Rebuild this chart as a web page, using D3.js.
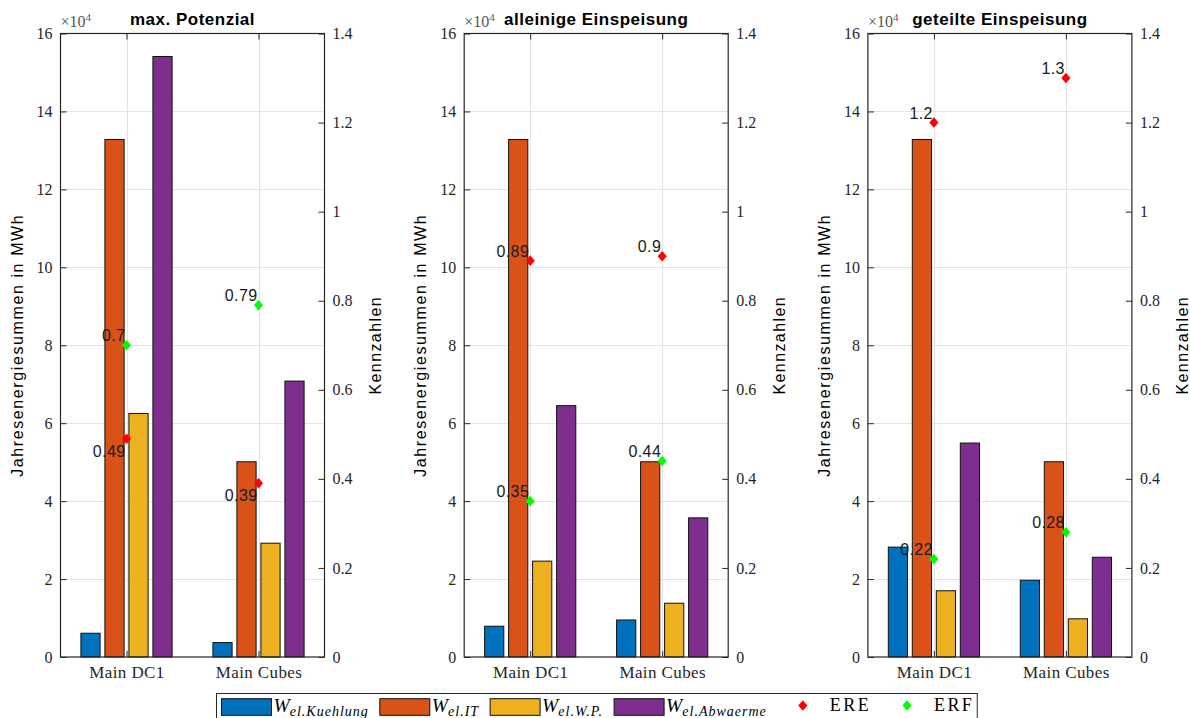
<!DOCTYPE html>
<html>
<head>
<meta charset="utf-8">
<script src="https://cdn.jsdelivr.net/npm/d3@7"></script>
<style>
  body { margin: 0; background: #fff; }
  svg { display: block; }
</style>
</head>
<body>
<svg id="chart" width="1190" height="718"></svg>
<script>
// ---- data -------------------------------------------------------------
const categories = ["Main DC1", "Main Cubes"];
const panelTitles = ["max. Potenzial", "alleinige Einspeisung", "geteilte Einspeisung"];

// annual energy sums in MWh, one [DC1, Cubes] pair per panel
const wKuehlung = [[6100, 3700], [7900, 9500], [28200, 19700]];
const wIT       = [[132800, 50100], [132800, 50100], [132800, 50100]];
const wWP       = [[62500, 29200], [24600, 13800], [17000, 9800]];
const wAbwaerme = [[154100, 70800], [64500, 35700], [54900, 25600]];

// key figures (right axis)
const ere = [[0.49, 0.39], [0.89, 0.9], [1.2, 1.3]];
const erf = [[0.7, 0.79], [0.35, 0.44], [0.22, 0.28]];

const leftTickValues  = [0, 20000, 40000, 60000, 80000, 100000, 120000, 140000, 160000];
const leftTickLabels  = ["0", "2", "4", "6", "8", "10", "12", "14", "16"];
const rightTickValues = [0, 0.2, 0.4, 0.6, 0.8, 1.0, 1.2, 1.4];
const rightTickLabels = ["0", "0.2", "0.4", "0.6", "0.8", "1", "1.2", "1.4"];

const barSubscripts = ["el.Kuehlung", "el.IT", "el.W.P.", "el.Abwaerme"];
const markerNames = ["ERE", "ERF"];

// ---- layout & style ---------------------------------------------------
const svg = d3.select("#chart");
const plotTop = 33.5, plotBottom = 657, plotWidth = 264;
const firstLeft = 60.5, panelStep = 403.7;
const barColors = ["#0072BD", "#D95319", "#EDB120", "#7E2F8E"];
const markerColors = ["#ff0000", "#00ff00"];
const axisColor = "#262626";
const gridColor = "#e3e3e3";
const sansFont = "'Liberation Sans', Arial, sans-serif";
const serifFont = "'Liberation Serif', 'Times New Roman', serif";
const ereLabelBelow = [true, false, false];
const erfLabelBelow = [false, false, false];

svg.append("rect").attr("width", 1190).attr("height", 718).attr("fill", "#fff");

const series = [wKuehlung, wIT, wWP, wAbwaerme];
const nSeries = series.length;
const groupWidth = Math.min(0.8, nSeries / (nSeries + 1.5));
const barStep = groupWidth / nSeries;
const barWidth = 0.8 * barStep;

// diamond marker in the MATLAB proportions (slightly taller than wide)
const matDiamond = {
  draw(ctx, size) {
    const h = Math.sqrt(size) / 2;
    const w = h * 0.86;
    ctx.moveTo(0, -h); ctx.lineTo(w, 0); ctx.lineTo(0, h); ctx.lineTo(-w, 0); ctx.closePath();
  }
};
const diamond = d3.symbol().type(matDiamond).size(112);

panelTitles.forEach((title, p) => {
  const left = firstLeft + p * panelStep;
  const right = left + plotWidth;
  const x = d3.scaleLinear().domain([0.5, categories.length + 0.5]).range([left, right]);
  const yL = d3.scaleLinear().domain([0, 160000]).range([plotBottom, plotTop]);
  const yR = d3.scaleLinear().domain([0, 1.4]).range([plotBottom, plotTop]);
  const g = svg.append("g");

  // grid
  g.append("g").selectAll("line").data(leftTickValues.slice(1, -1)).join("line")
    .attr("x1", left).attr("x2", right)
    .attr("y1", d => Math.round(yL(d)) + 0.5).attr("y2", d => Math.round(yL(d)) + 0.5)
    .attr("stroke", gridColor).attr("stroke-width", 1);
  g.append("g").selectAll("line").data(categories.map((c, i) => i + 1)).join("line")
    .attr("x1", d => Math.round(x(d)) + 0.5).attr("x2", d => Math.round(x(d)) + 0.5)
    .attr("y1", plotTop).attr("y2", plotBottom)
    .attr("stroke", gridColor).attr("stroke-width", 1);

  // bars
  series.forEach((s, k) => {
    g.append("g").selectAll("rect").data(s[p]).join("rect")
      .attr("x", (d, i) => x(i + 1 + (k - (nSeries - 1) / 2) * barStep - barWidth / 2))
      .attr("width", x(barWidth) - x(0))
      .attr("y", d => yL(d))
      .attr("height", d => yL(0) - yL(d))
      .attr("fill", barColors[k])
      .attr("stroke", "#111").attr("stroke-width", 1);
  });

  // axes (ticks pointing inward)
  const axL = g.append("g").attr("transform", `translate(${left},0)`)
    .call(d3.axisLeft(yL).tickValues(leftTickValues).tickFormat((d, i) => leftTickLabels[i])
      .tickSize(-6).tickPadding(8));
  const axR = g.append("g").attr("transform", `translate(${right},0)`)
    .call(d3.axisRight(yR).tickValues(rightTickValues).tickFormat((d, i) => rightTickLabels[i])
      .tickSize(-6).tickPadding(8));
  const axB = g.append("g").attr("transform", `translate(0,${plotBottom})`)
    .call(d3.axisBottom(x).tickValues(categories.map((c, i) => i + 1))
      .tickFormat(d => categories[d - 1]).tickSize(-6).tickPadding(9));
  const axT = g.append("g").attr("transform", `translate(0,${plotTop})`)
    .call(d3.axisTop(x).tickValues(categories.map((c, i) => i + 1))
      .tickFormat("").tickSize(-6));
  [axL, axR, axB, axT].forEach(a => {
    a.select(".domain").remove();
    a.selectAll(".tick line").attr("stroke", axisColor);
    a.selectAll("text").attr("fill", axisColor).attr("font-family", serifFont).attr("font-size", 16);
  });
  axB.selectAll("text").attr("font-size", 17).attr("letter-spacing", 0.4);

  // frame
  g.append("rect").attr("x", left).attr("y", plotTop)
    .attr("width", plotWidth).attr("height", plotBottom - plotTop)
    .attr("fill", "none").attr("stroke", axisColor).attr("stroke-width", 1.2);

  // key-figure markers and their value labels
  [ere, erf].forEach((fig, m) => {
    const below = m === 0 ? ereLabelBelow[p] : erfLabelBelow[p];
    g.append("g").selectAll("path").data(fig[p]).join("path")
      .attr("d", diamond)
      .attr("transform", (d, i) => `translate(${x(i + 1)},${yR(d)})`)
      .attr("fill", markerColors[m]);
    g.append("g").selectAll("text").data(fig[p]).join("text")
      .attr("x", (d, i) => x(i + 1) - 1)
      .attr("y", d => below ? yR(d) + 18 : yR(d) - 4)
      .attr("text-anchor", "end")
      .attr("font-family", sansFont).attr("font-size", 16).attr("letter-spacing", 0.4)
      .attr("fill", "#1a1a1a")
      .text(d => String(d));
  });

  // exponent of the left axis
  const ex = g.append("text").attr("x", left).attr("y", 27.3)
    .attr("font-family", serifFont).attr("font-size", 16).attr("fill", "#555");
  ex.append("tspan").text("×10");
  ex.append("tspan").attr("font-size", 11).attr("dy", -6).text("4");

  // title
  g.append("text").attr("x", (left + right) / 2).attr("y", 25)
    .attr("text-anchor", "middle").attr("font-family", sansFont)
    .attr("font-weight", "bold").attr("font-size", 17).attr("letter-spacing", 0.5)
    .attr("fill", "#000").text(title);

  // axis titles
  g.append("text").attr("transform", `translate(${left - 38},${(plotTop + plotBottom) / 2}) rotate(-90)`)
    .attr("text-anchor", "middle").attr("font-family", sansFont).attr("font-size", 16)
    .attr("letter-spacing", 1.6).attr("fill", "#000").text("Jahresenergiesummen in MWh");
  g.append("text").attr("transform", `translate(${right + 56.5},${(plotTop + plotBottom) / 2}) rotate(-90)`)
    .attr("text-anchor", "middle").attr("font-family", sansFont).attr("font-size", 16)
    .attr("letter-spacing", 1.4).attr("fill", "#000").text("Kennzahlen");
});

// ---- legend -----------------------------------------------------------
const legend = svg.append("g");
const legendBox = legend.append("rect").attr("y", 693.5).attr("height", 25)
  .attr("fill", "#fff").attr("stroke", axisColor).attr("stroke-width", 1);
const legendLeft = 216.5;
let cursor = legendLeft + 5;
const iconW = 50, textBase = 712;

barSubscripts.forEach((sub, k) => {
  legend.append("rect").attr("x", cursor).attr("y", 698.7).attr("width", iconW).attr("height", 16.6)
    .attr("fill", barColors[k]).attr("stroke", "#111").attr("stroke-width", 1);
  const t = legend.append("text").attr("x", cursor + iconW + 2).attr("y", textBase)
    .attr("font-family", serifFont).attr("fill", "#000");
  t.append("tspan").attr("font-style", "italic").attr("font-size", 19.5).text("W");
  t.append("tspan").attr("font-style", "italic").attr("font-size", 14).attr("letter-spacing", 1.0)
    .attr("dy", 4).text(sub);
  cursor += iconW + 2 + t.node().getComputedTextLength() + 11;
});
markerNames.forEach((name, m) => {
  legend.append("path").attr("d", diamond)
    .attr("transform", `translate(${cursor + iconW / 2},705.5)`)
    .attr("fill", markerColors[m]);
  const t = legend.append("text").attr("x", cursor + iconW + 2).attr("y", 711)
    .attr("font-family", serifFont).attr("font-size", 18).attr("letter-spacing", 2.4)
    .attr("fill", "#000").text(name);
  cursor += iconW + 2 + t.node().getComputedTextLength() + (m < markerNames.length - 1 ? 11 : 3);
});
legendBox.attr("x", legendLeft).attr("width", cursor - legendLeft);
</script>
</body>
</html>
